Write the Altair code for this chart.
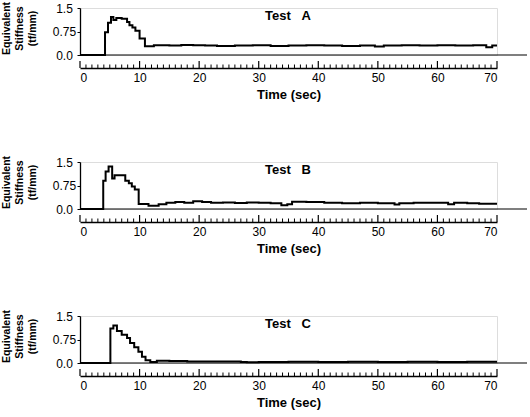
import altair as alt
import pandas as pd

# ---- data ----
a_time = [0, 4.2, 4.7, 5.2, 5.6, 6.1, 7.0, 7.9, 8.3, 8.8, 9.3, 10.0, 10.9, 12.4, 15, 17, 19, 21, 23, 26, 29, 32, 35,
          38, 41, 44, 47, 49.5, 51, 54, 57, 60, 63, 66, 68.2, 69.2, 70]
a_stiff = [0, 0.73, 1.03, 1.21, 1.12, 1.18, 1.16, 1.05, 0.95, 0.88, 0.77, 0.53, 0.28, 0.31, 0.3, 0.32, 0.31, 0.3, 0.29,
           0.3, 0.31, 0.29, 0.3, 0.31, 0.3, 0.29, 0.3, 0.27, 0.3, 0.31, 0.3, 0.31, 0.3, 0.31, 0.25, 0.3, 0.3]

b_time = [0, 3.9, 4.3, 4.8, 5.4, 5.8, 7.6, 8.2, 8.7, 9.2, 9.85, 11.5, 13.2, 14.5, 16, 17.5, 19, 20.5, 22, 24, 26, 28,
          30, 32, 33.8, 34.8, 35.6, 38, 41, 44, 47, 50, 52.8, 53.6, 56, 59, 61.8, 62.8, 65, 67, 70]
b_stiff = [0, 0.9, 1.2, 1.36, 0.97, 1.08, 0.9, 0.82, 0.72, 0.62, 0.16, 0.1, 0.15, 0.2, 0.22, 0.2, 0.25, 0.22, 0.2,
           0.21, 0.19, 0.21, 0.2, 0.18, 0.12, 0.15, 0.23, 0.22, 0.2, 0.18, 0.2, 0.18, 0.14, 0.18, 0.2, 0.2, 0.15, 0.2,
           0.18, 0.17, 0.17]

c_time = [0, 5.1, 5.6, 6.2, 7.0, 7.9, 8.4, 9.1, 9.8, 10.4, 11.0, 11.8, 12.9, 15, 18, 21, 24, 27, 28, 30, 35, 40, 45,
          50, 55, 60, 65, 70]
c_stiff = [0, 1.1, 1.2, 1.02, 0.9, 0.8, 0.64, 0.5, 0.36, 0.2, 0.09, 0.03, 0.07, 0.06, 0.05, 0.05, 0.05, 0.03, 0.02,
           0.03, 0.04, 0.03, 0.04, 0.03, 0.04, 0.03, 0.04, 0.04]

tests = ["Test\u00a0\u00a0\u00a0A", "Test\u00a0\u00a0\u00a0B", "Test\u00a0\u00a0\u00a0C"]
x_ticks = list(range(0, 71, 10))
minor_ticks = [t for t in range(0, 71) if t % 10 != 0]
y_ticks = [0, 0.75, 1.5]
y_labels = ["0.0", "0.75", "1.5"]

W, H = 417, 47
FONT = "Liberation Sans"

xscale = alt.Scale(domain=[0, 70], nice=False, zero=False)
yscale = alt.Scale(domain=[0, 1.5], nice=False)
label_expr = "datum.value < 0.3 ? '%s' : datum.value < 1 ? '%s' : '%s'" % tuple(y_labels)

x_axis = alt.Axis(values=x_ticks, title="Time  (sec)", offset=13, ticks=False, tickSize=0,
                  labelPadding=4, grid=False, domainColor="black", domainWidth=1.3,
                  labelFontSize=12, labelColor="black", labelFont=FONT,
                  titleFont=FONT, titleFontSize=13, titleFontWeight="bold", titleColor="black",
                  titlePadding=5)
y_axis = alt.Axis(values=y_ticks, title=["Equivalent", "Stiffness", "(tf/mm)"],
                  labelExpr=label_expr,
                  labelOverlap=False, labelBound=False, labelFlush=False,
                  grid=False, tickSize=3, tickColor="black", domainColor="black", domainWidth=1.3,
                  labelAlign="center", labelPadding=13, labelFontSize=12, labelColor="black",
                  labelFont=FONT, titleFont=FONT, titleFontSize=10.5, titleFontWeight="bold",
                  titleColor="black", titleLineHeight=13, titlePadding=15, titleY=20)


def panel(times, vals, label):
    df = pd.DataFrame({"t": times, "s": vals})
    line = alt.Chart(df).mark_line(interpolate="step-after", color="black", strokeWidth=2).encode(
        x=alt.X("t:Q", scale=xscale, axis=x_axis),
        y=alt.Y("s:Q", scale=yscale, axis=y_axis),
    )
    zero = alt.Chart(pd.DataFrame({"s": [0]})).mark_rule(color="black", strokeWidth=1.2).encode(
        y=alt.Y("s:Q", scale=yscale, axis=y_axis), x=alt.value(0), x2=alt.value(447))
    minor = alt.Chart(pd.DataFrame({"t": minor_ticks})).mark_rule(color="black", strokeWidth=1).encode(
        x=alt.X("t:Q", scale=xscale, axis=x_axis), y=alt.value(H + 13), y2=alt.value(H + 9.5))
    major = alt.Chart(pd.DataFrame({"t": x_ticks})).mark_rule(color="black", strokeWidth=1.2).encode(
        x=alt.X("t:Q", scale=xscale, axis=x_axis), y=alt.value(H + 13), y2=alt.value(H + 6))
    txt = alt.Chart(pd.DataFrame({"label": [label]})).mark_text(
        align="left", baseline="middle", font=FONT, fontSize=13, fontWeight="bold", color="black").encode(
        x=alt.value(185), y=alt.value(8), text="label:N")
    return alt.layer(line, zero, minor, major, txt).properties(width=W, height=H)


chart = alt.vconcat(
    panel(a_time, a_stiff, tests[0]),
    panel(b_time, b_stiff, tests[1]),
    panel(c_time, c_stiff, tests[2]),
    spacing=52,
).properties(padding={"left": 0, "top": 0, "right": 0, "bottom": 0}).configure_view(stroke=None).configure(
    background="white")

chart.save("out.html", embed_options={"renderer": "svg", "actions": False})
